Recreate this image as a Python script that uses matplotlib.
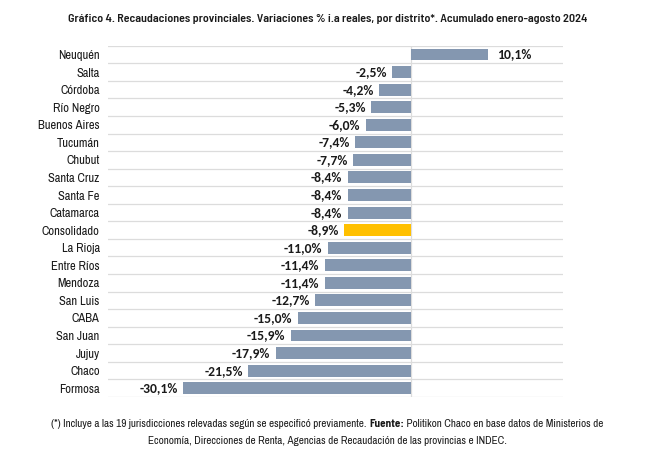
import matplotlib
matplotlib.use("Agg")
import matplotlib.pyplot as plt
from matplotlib import font_manager

categories = ["Neuquén", "Salta", "Córdoba", "Río Negro", "Buenos Aires", "Tucumán",
              "Chubut", "Santa Cruz", "Santa Fe", "Catamarca", "Consolidado", "La Rioja",
              "Entre Ríos", "Mendoza", "San Luis", "CABA", "San Juan", "Jujuy", "Chaco", "Formosa"]
values = [10.1, -2.5, -4.2, -5.3, -6.0, -7.4, -7.7, -8.4, -8.4, -8.4, -8.9, -11.0,
          -11.4, -11.4, -12.7, -15.0, -15.9, -17.9, -21.5, -30.1]
highlight = "Consolidado"

names = {f.name for f in font_manager.fontManager.ttflist}
def pick(*cands):
    for c in cands:
        if c in names:
            return c
    return "DejaVu Sans"

narrow = pick("Archivo Narrow", "Barlow Semi Condensed", "DejaVu Sans")
title_font = pick("Barlow Semi Condensed", "Archivo Narrow")
val_font = pick("Carlito", "Lato", "Open Sans")
val_weight = "bold" if val_font == "Carlito" else "semibold"

fig = plt.figure(figsize=(6.61, 4.66), dpi=100)
ax = fig.add_axes([108/661, 1-397/466, (563-108)/661, (397-45.7)/466])

n = len(categories)
ys = list(range(n))
colors = ["#FFC000" if c == highlight else "#8497B0" for c in categories]
ax.barh(ys, values, height=0.68, color=colors, zorder=3)
ax.set_xlim(-40, 20)
ax.set_ylim(n - 0.5, -0.5)

for y in [i - 0.5 for i in range(n + 1)]:
    ax.axhline(y, color="#dcdcdc", lw=0.9, zorder=1)
ax.axvline(0, color="#dcdcdc", lw=0.9, zorder=2)

for y, v in zip(ys, values):
    txt = f"{v:.1f}%".replace(".", ",")
    if v >= 0:
        ax.text(v + 1.2, y, txt, ha="left", va="center", fontsize=9.8, color="#1a1a1a",
                family=val_font, fontweight=val_weight)
    else:
        ax.text(v - 0.7, y, txt, ha="right", va="center", fontsize=9.8, color="#1a1a1a",
                family=val_font, fontweight=val_weight)

ax.set_yticks(ys)
ax.set_yticklabels(categories, family=narrow, fontsize=9, color="#1a1a1a")
ax.tick_params(axis="y", length=0, pad=6)
ax.set_xticks([])
for s in ax.spines.values():
    s.set_visible(False)

fig.text(0.495, 1-19/466,
         "Gráfico 4. Recaudaciones provinciales. Variaciones % i.a reales, por distrito*. Acumulado enero-agosto 2024",
         ha="center", va="center", family=title_font, fontweight="semibold", fontsize=8.7, color="#1a1a1a")

# footnote line 1 with a bold segment, assembled from pieces
parts = [("(*) Incluye a las 19 jurisdicciones relevadas según se especificó previamente. ", "normal"),
         ("Fuente:", "bold"),
         (" Politikon Chaco en base datos de Ministerios de", "normal")]
fig.canvas.draw()
r = fig.canvas.get_renderer()
objs = []
for s, w in parts:
    t = fig.text(0, 1-424/466, s, ha="left", va="center", family=narrow if w == "normal" else title_font,
                 fontweight=w, fontsize=8, color="#1a1a1a")
    objs.append(t)
widths = [t.get_window_extent(r).width / fig.bbox.width for t in objs]
x = 0.495 - sum(widths) / 2
for t, wd in zip(objs, widths):
    t.set_x(x)
    x += wd
fig.text(0.495, 1-441/466,
         "Economía, Direcciones de Renta, Agencias de Recaudación de las provincias e INDEC.",
         ha="center", va="center", family=narrow, fontsize=8, color="#1a1a1a")

fig.savefig("out.png", dpi=100, facecolor="white")
